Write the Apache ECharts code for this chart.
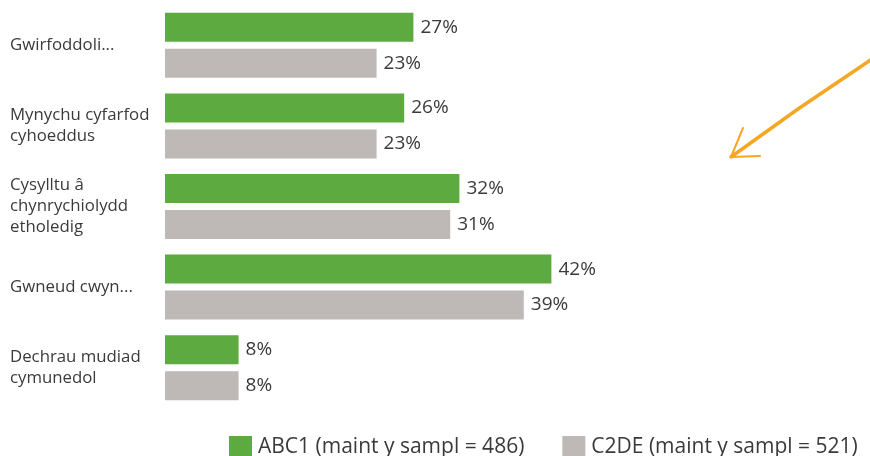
<!DOCTYPE html>
<html>
<head>
<meta charset="utf-8">
<script src="https://cdn.jsdelivr.net/npm/echarts@6/dist/echarts.min.js"></script>
<style>html,body{margin:0;padding:0;background:#fff}#c{width:870px;height:456px}</style>
</head>
<body>
<div id="c"></div>
<script>
const categories = ['Gwirfoddoli...', 'Mynychu cyfarfod\ncyhoeddus', 'Cysylltu â\nchynrychiolydd\netholedig', 'Gwneud cwyn...', 'Dechrau mudiad\ncymunedol'];
const seriesNames = ['ABC1 (maint y sampl = 486)', 'C2DE (maint y sampl = 521)'];
const abc1 = [27, 26, 32, 42, 8];
const c2de = [23, 23, 31, 39, 8];

const font = '"Open Sans", "Noto Sans", sans-serif';
const txt = '#3a3a3a';
const chart = echarts.init(document.getElementById('c'));
chart.setOption({
  animation: false,
  textStyle: { fontFamily: font },
  grid: { left: 165, top: 5, width: 460, height: 403, containLabel: false },
  xAxis: { type: 'value', min: 0, max: 50, show: false },
  yAxis: {
    type: 'category', data: categories, inverse: true,
    axisLine: { show: false }, axisTick: { show: false },
    axisLabel: { align: 'left', margin: 155, fontSize: 16.8, lineHeight: 21, color: txt, fontFamily: font }
  },
  legend: {
    top: 431, left: 224, itemWidth: 23, itemHeight: 23, itemGap: 38,
    icon: 'rect', textStyle: { fontSize: 21, color: txt, fontFamily: font, padding: [0, 0, 0, 1] },
    data: seriesNames
  },
  series: [
    { name: seriesNames[0], type: 'bar', data: abc1, barWidth: 29, barGap: '24%',
      itemStyle: { color: '#5DAA40' },
      label: { show: true, position: 'right', distance: 7, formatter: '{c}%', fontSize: 19, color: txt, fontFamily: font } },
    { name: seriesNames[1], type: 'bar', data: c2de, barWidth: 29,
      itemStyle: { color: '#BEB9B6' },
      label: { show: true, position: 'right', distance: 7, formatter: '{c}%', fontSize: 19, color: txt, fontFamily: font } }
  ],
  graphic: [
    { type: 'polyline', shape: { points: [[872, 59], [798, 109], [731, 157]] }, style: { stroke: '#F5A623', lineWidth: 3.5, fill: null, lineCap: 'round' } },
    { type: 'polyline', shape: { points: [[743, 128], [731, 157], [760, 156]] }, style: { stroke: '#F5A623', lineWidth: 2, fill: null, lineCap: 'round', lineJoin: 'round' } }
  ]
});
</script>
</body>
</html>
